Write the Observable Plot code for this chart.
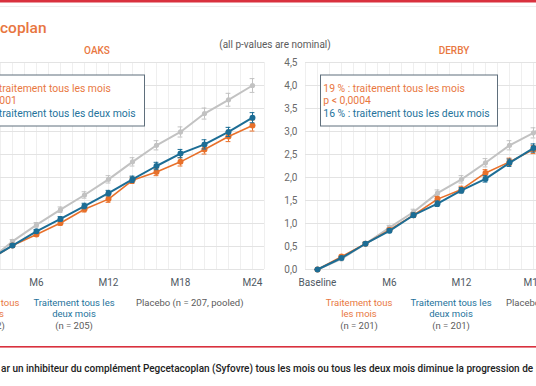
<!DOCTYPE html>
<html><head><meta charset="utf-8">
<script src="https://cdn.jsdelivr.net/npm/d3@7"></script>
<script src="https://cdn.jsdelivr.net/npm/@observablehq/plot@0.6"></script>
<style>
html,body{margin:0;padding:0;}
body{width:536px;height:386px;overflow:hidden;position:relative;background:#fff;font-family:Roboto,"Noto Sans",sans-serif;}
.panel{position:absolute;top:0;width:357px;height:300px;}
.panel svg{max-width:none !important;}
#overlay{position:absolute;left:0;top:0;}
</style></head><body>
<div id="oaks" class="panel" style="left:-83px"></div>
<div id="derby" class="panel" style="left:270px"></div>
<svg id="overlay" width="536" height="386"></svg>
<script>
// ---- data ----
const months = [0, 2, 4, 6, 8, 10, 12, 14, 16, 18, 20, 22, 24];
const yTicks = [0, 0.5, 1, 1.5, 2, 2.5, 3, 3.5, 4, 4.5];
const xTickMonths = [0, 6, 12, 18, 24];
const xTickLabels = ["Baseline", "M6", "M12", "M18", "M24"];
const seriesNames = ["Placebo", "Traitement tous les mois", "Traitement tous les deux mois"];
const seriesColors = ["#c2c2c2", "#e8702a", "#1c6d95"];

const oaksPlacebo = [0, 0.19, 0.61, 0.97, 1.30, 1.62, 1.96, 2.34, 2.70, 2.99, 3.39, 3.69, 4.00];
const oaksMonthly = [0, 0.20, 0.52, 0.76, 1.01, 1.31, 1.53, 1.94, 2.12, 2.34, 2.61, 2.89, 3.13];
const oaksEOM     = [0, 0.21, 0.52, 0.83, 1.10, 1.38, 1.66, 1.96, 2.25, 2.52, 2.72, 2.99, 3.30];
const oaksPlaceboErr = [0, 0.03, 0.04, 0.05, 0.06, 0.07, 0.08, 0.09, 0.10, 0.11, 0.12, 0.14, 0.15];
const oaksMonthlyErr = [0, 0.03, 0.03, 0.04, 0.05, 0.06, 0.07, 0.07, 0.08, 0.09, 0.10, 0.11, 0.12];
const oaksEOMErr     = [0, 0.03, 0.03, 0.04, 0.05, 0.06, 0.06, 0.07, 0.08, 0.09, 0.10, 0.10, 0.11];

const derbyPlacebo = [0, 0.23, 0.56, 0.91, 1.25, 1.66, 1.96, 2.32, 2.70, 2.97, 3.30, 3.62, 3.95];
const derbyMonthly = [0, 0.28, 0.56, 0.86, 1.18, 1.53, 1.74, 2.10, 2.34, 2.61, 2.90, 3.10, 3.30];
const derbyEOM     = [0, 0.25, 0.56, 0.84, 1.18, 1.43, 1.72, 1.97, 2.32, 2.64, 2.88, 3.12, 3.35];
const derbyPlaceboErr = [0, 0.03, 0.04, 0.05, 0.06, 0.07, 0.08, 0.09, 0.10, 0.11, 0.12, 0.13, 0.14];
const derbyMonthlyErr = [0, 0.03, 0.03, 0.04, 0.05, 0.06, 0.07, 0.07, 0.08, 0.09, 0.10, 0.11, 0.12];
const derbyEOMErr     = [0, 0.03, 0.03, 0.04, 0.05, 0.06, 0.06, 0.07, 0.08, 0.09, 0.10, 0.10, 0.11];

// ---- text ----
const titleText = "coplan";
const noteText = "(all p-values are nominal)";
const panelTitles = ["OAKS", "DERBY"];
const oaksLegend = ["22 % : traitement tous les mois", "p < 0,0001", "18 % : traitement tous les deux mois"];
const derbyLegend = ["19 % : traitement tous les mois", "p < 0,0004", "16 % : traitement tous les deux mois"];
const captionText = "ar un inhibiteur du complément Pegcetacoplan (Syfovre) tous les mois ou tous les deux mois diminue la progression de l'atrophie géographique";

const ORANGE_TXT = "#e9783f", BLUE_TXT = "#25739c", GRAY_TXT = "#5b5b5b", RED = "#d9313e";

function rowsFor(vals, errs) {
  const rows = [];
  vals.forEach((v, k) => v.forEach((y, i) => rows.push({s: k, m: months[i], v: y, e: errs[k][i]})));
  return rows;
}

function panel(vals, errs, showY) {
  const rows = rowsFor(vals, errs);
  const bySeries = k => rows.filter(d => d.s === k);
  const color = d => seriesColors[d.s];
  const marks = [
    Plot.gridX(d3.range(-1, 26), {stroke: "#efefef", strokeOpacity: 1}),
    Plot.gridY(yTicks, {stroke: "#e3e3e3", strokeOpacity: 1}),
    Plot.axisX(xTickMonths, {tickSize: 0, tickPadding: 9, fill: "#4f5963", tickFormat: (d, i) => xTickLabels[i], label: null})
  ];
  if (showY) marks.push(Plot.axisY(yTicks, {tickSize: 0, tickPadding: 8, fill: "#6a6a6a", tickFormat: d => d.toFixed(1).replace(".", ","), label: null}));
  else marks.push(Plot.axisY({ticks: [], label: null}));
  [0, 1, 2].forEach(k => {
    const data = bySeries(k);
    const sw = k === 1 ? 1.6 : 2;
    marks.push(
      Plot.ruleX(data, {x: "m", y1: d => d.v - d.e, y2: d => d.v + d.e, stroke: color, strokeWidth: 1}),
      Plot.ruleY(data, {y: d => d.v + d.e, x1: d => d.m - 0.2, x2: d => d.m + 0.2, stroke: color, strokeWidth: 1}),
      Plot.ruleY(data, {y: d => d.v - d.e, x1: d => d.m - 0.2, x2: d => d.m + 0.2, stroke: color, strokeWidth: 1}),
      Plot.line(data, {x: "m", y: "v", stroke: color, strokeWidth: sw}),
      Plot.dot(data, {x: "m", y: "v", fill: color, r: k === 0 ? 2.6 : 3, stroke: "none"})
    );
  });
  return Plot.plot({
    width: 357, height: 300,
    marginLeft: 35, marginRight: 10, marginTop: 62, marginBottom: 31,
    x: {domain: [-1, 25]},
    y: {domain: [0, 4.5]},
    style: {fontFamily: "Roboto, sans-serif", fontSize: "10px", background: "transparent", overflow: "visible", maxWidth: "none"},
    marks
  });
}

document.getElementById("oaks").append(panel([oaksPlacebo, oaksMonthly, oaksEOM], [oaksPlaceboErr, oaksMonthlyErr, oaksEOMErr], false));
document.getElementById("derby").append(panel([derbyPlacebo, derbyMonthly, derbyEOM], [derbyPlaceboErr, derbyMonthlyErr, derbyEOMErr], true));

// ---- annotations ----
const svg = d3.select("#overlay").style("font-family", "Roboto, sans-serif");
svg.append("rect").attr("x", 0).attr("y", 0).attr("width", 536).attr("height", 2.5).attr("fill", RED);
svg.append("rect").attr("x", 0).attr("y", 6).attr("width", 536).attr("height", 1).attr("fill", "#efefef");
svg.append("rect").attr("x", 0).attr("y", 346).attr("width", 536).attr("height", 1.6).attr("fill", RED);

svg.append("text").attr("x", 0).attr("y", 33).attr("font-size", 15.5).attr("font-weight", 500).attr("fill", "#e8763f").text(titleText);
svg.append("text").attr("x", 275).attr("y", 48).attr("text-anchor", "middle").attr("font-size", 10).attr("fill", GRAY_TXT).text(noteText);
svg.append("text").attr("x", 97).attr("y", 54).attr("text-anchor", "middle").attr("font-size", 10).attr("font-weight", 500).attr("fill", ORANGE_TXT).text(panelTitles[0]);
svg.append("text").attr("x", 454).attr("y", 54).attr("text-anchor", "middle").attr("font-size", 10).attr("font-weight", 500).attr("fill", ORANGE_TXT).text(panelTitles[1]);

function legendBox(x0, x1, lines) {
  svg.append("rect").attr("x", x0).attr("y", 75).attr("width", x1 - x0).attr("height", 51)
    .attr("fill", "#fff").attr("stroke", "#5f6f7c").attr("stroke-width", 1);
  const cols = [ORANGE_TXT, ORANGE_TXT, BLUE_TXT];
  lines.forEach((t, i) => svg.append("text").attr("x", x0 + 2.8).attr("y", 91.5 + i * 12.5)
    .attr("font-size", 10.4).attr("fill", cols[i]).text(t));
}
legendBox(-33.5, 144.5, oaksLegend);
legendBox(320.5, 497.5, derbyLegend);

function groupLabel(cx, lines, cols, anchor) {
  lines.forEach((t, i) => svg.append("text").attr("x", cx).attr("y", 305.5 + i * 11.5)
    .attr("text-anchor", anchor || "middle").attr("font-size", 9.5).attr("fill", cols[i]).text(t));
}
groupLabel(-14, ["Traitement tous", "les mois", "(n = 202)"], [ORANGE_TXT, ORANGE_TXT, GRAY_TXT]);
groupLabel(74, ["Traitement tous les", "deux mois", "(n = 205)"], [BLUE_TXT, BLUE_TXT, GRAY_TXT]);
groupLabel(136, ["Placebo (n = 207, pooled)"], [GRAY_TXT], "start");
groupLabel(359, ["Traitement tous", "les mois", "(n = 201)"], [ORANGE_TXT, ORANGE_TXT, GRAY_TXT]);
groupLabel(451, ["Traitement tous les", "deux mois", "(n = 201)"], [BLUE_TXT, BLUE_TXT, GRAY_TXT]);
groupLabel(506, ["Placebo (n = 206, pooled)"], [GRAY_TXT], "start");

svg.append("text").attr("x", 1).attr("y", 372).attr("font-size", 10).attr("font-weight", 500).attr("fill", "#222").text(captionText);
</script>
</body></html>
